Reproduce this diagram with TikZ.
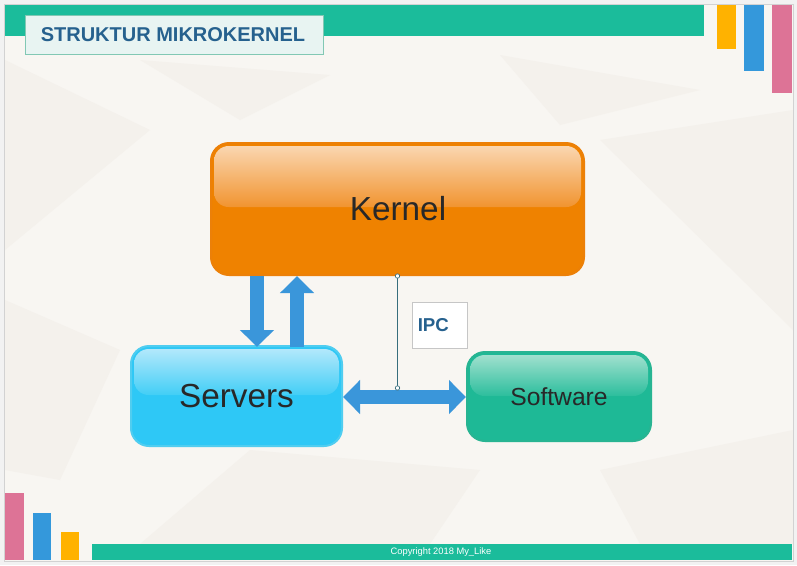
\documentclass[tikz,border=0pt]{standalone}
\usepackage{fontspec}
\setmainfont{Liberation Sans}
\usetikzlibrary{arrows.meta,fit,calc}
\definecolor{tealbar}{RGB}{27,188,155}
\definecolor{orngbar}{RGB}{255,178,0}
\definecolor{bluebar}{RGB}{52,152,219}
\definecolor{pinkbar}{RGB}{221,115,150}
\definecolor{titleblue}{RGB}{38,97,142}
\definecolor{titlefill}{RGB}{232,244,242}
\definecolor{titleedge}{RGB}{130,200,180}
\definecolor{bgc}{RGB}{248,246,242}
\definecolor{bgpoly}{RGB}{244,241,236}
\definecolor{kern}{RGB}{239,130,0}
\definecolor{kernedge}{RGB}{236,128,8}
\definecolor{kgA}{RGB}{250,214,176}
\definecolor{kgB}{RGB}{241,148,48}
\definecolor{serv}{RGB}{46,200,246}
\definecolor{servedge}{RGB}{80,205,240}
\definecolor{sgA}{RGB}{178,232,251}
\definecolor{sgB}{RGB}{66,206,246}
\definecolor{soft}{RGB}{30,185,150}
\definecolor{softedge}{RGB}{40,180,146}
\definecolor{fgA}{RGB}{160,224,206}
\definecolor{fgB}{RGB}{44,190,157}
\definecolor{arrowblue}{RGB}{58,150,218}
\definecolor{ipcline}{RGB}{55,110,125}
\definecolor{darktext}{RGB}{40,40,40}
\tikzset{
  boxstyle/.style={inner sep=0pt, rounded corners=13.5pt, line width=1.5pt},
  blockarrow/.style={line width=10.5pt, arrowblue},
  glossstyle/.style={rounded corners=11pt}
}
\begin{document}
\begin{tikzpicture}[x=0.75pt,y=-0.75pt]
\useasboundingbox (0,0) rectangle (797,565);
% frame and background
\fill[gray!10] (0,0) rectangle (797,565);
\fill[bgc] (4,4) rectangle (793,561);
% faint background polygons
\fill[bgpoly] (5,60) -- (150,130) -- (5,250) -- cycle;
\fill[bgpoly] (140,60) -- (330,75) -- (240,120) -- cycle;
\fill[bgpoly] (500,55) -- (700,90) -- (560,125) -- cycle;
\fill[bgpoly] (600,140) -- (793,110) -- (793,330) -- cycle;
\fill[bgpoly] (5,300) -- (120,350) -- (60,480) -- (5,470) -- cycle;
\fill[bgpoly] (250,450) -- (480,470) -- (430,544) -- (140,544) -- cycle;
\fill[bgpoly] (600,470) -- (793,430) -- (793,544) -- (640,544) -- cycle;
\draw[gray!35, line width=0.75pt] (4,4) rectangle (793,561);
% top bar and decorative bars
\fill[tealbar] (5,5) rectangle (704,36);
\fill[orngbar] (717,5) rectangle (736,49);
\fill[bluebar] (744,5) rectangle (764,71);
\fill[pinkbar] (772,5) rectangle (792,93);
% bottom bars
\fill[pinkbar] (5,493) rectangle (24,560);
\fill[bluebar] (33,513) rectangle (51,560);
\fill[orngbar] (61,532) rectangle (79,560);
\fill[tealbar] (92,544) rectangle (792,560);
\node[text=white, font=\fontsize{7}{8}\selectfont, inner sep=0pt] (copyright) at (441,552) {Copyright 2018 My\_Like};
% title
\node[draw=titleedge, fill=titlefill, line width=0.75pt, minimum width=223.5pt, minimum height=29.25pt, inner sep=0pt] (titlebox) at (174,34.5) {};
\node[text=titleblue, font=\bfseries\fontsize{15}{18}\selectfont, anchor=west, inner sep=0pt] (title) at ([xshift=12pt]titlebox.west) {STRUKTUR MIKROKERNEL};
% kernel
\node[boxstyle, fill=kern, draw=kernedge, fit={(211,143)(584,275)}] (kernel) {};
\shade[glossstyle, top color=kgA, bottom color=kgB] (214,146) rectangle (581,207);
\node[text=darktext, font=\fontsize{25}{30}\selectfont, inner sep=0pt] (kernellabel) at (398,209) {Kernel};
% servers
\node[boxstyle, fill=serv, draw=servedge, fit={(131,346)(342,446)}] (servers) {};
\shade[glossstyle, top color=sgA, bottom color=sgB] (134,349) rectangle (339,395);
\node[text=darktext, font=\fontsize{25}{30}\selectfont, inner sep=0pt] (serverslabel) at (236.5,396) {Servers};
% software
\node[boxstyle, fill=soft, draw=softedge, fit={(467,352)(651,441)}] (software) {};
\shade[glossstyle, top color=fgA, bottom color=fgB] (470,355) rectangle (648,396);
\node[text=darktext, font=\fontsize{18.5}{22}\selectfont, inner sep=0pt] (softwarelabel) at (559,397) {Software};
% vertical arrows
\coordinate (downx) at (257,0);
\coordinate (upx) at (297,0);
\draw[blockarrow, -{Triangle[width=24.75pt,length=12.75pt]}] (downx |- kernel.south) -- ([yshift=-1.5pt]downx |- servers.north);
\draw[blockarrow, -{Triangle[width=24.75pt,length=12.75pt]}] ([yshift=-1.5pt]upx |- servers.north) -- (upx |- kernel.south);
% horizontal double arrow
\draw[line width=11pt, arrowblue, {Triangle[width=24.75pt,length=12.75pt]}-{Triangle[width=24.75pt,length=12.75pt]}] (servers.east |- 0,397) -- (software.west |- 0,397);
% IPC
\coordinate (ipcend) at (397.5,388);
\draw[ipcline, line width=0.6pt] (kernel.south) -- (ipcend);
\draw[ipcline, fill=white, line width=0.5pt] (kernel.south) circle (2.2);
\draw[ipcline, fill=white, line width=0.5pt] (ipcend) circle (2.2);
\node[draw=gray!45, fill=white, line width=0.75pt, minimum width=41.25pt, minimum height=34.5pt, inner sep=0pt] (ipcbox) at (439.5,325) {};
\node[text=titleblue, font=\bfseries\fontsize{14}{16}\selectfont, anchor=west, inner sep=0pt] (ipclabel) at ([xshift=4.5pt]ipcbox.west) {IPC};
\end{tikzpicture}
\end{document}
